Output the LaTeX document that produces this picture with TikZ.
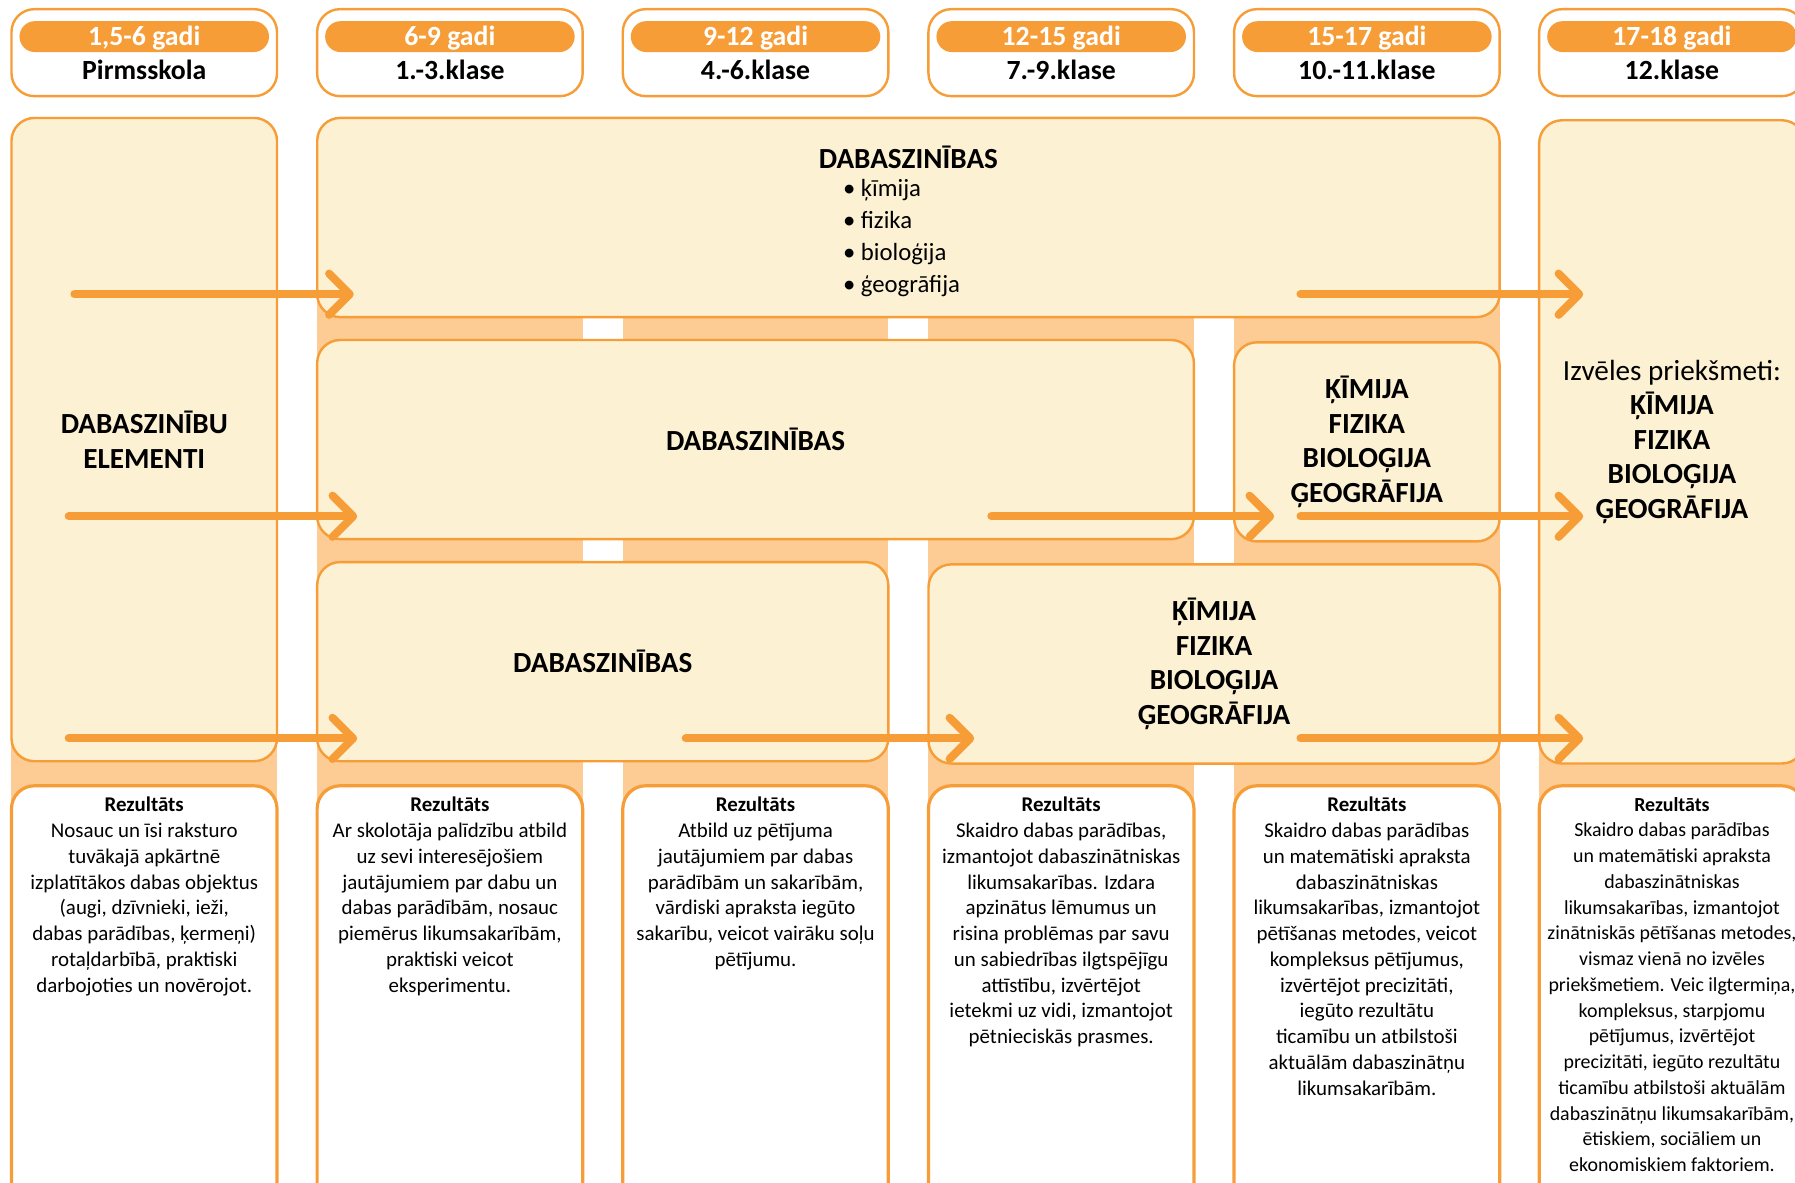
\documentclass[tikz,border=0pt]{standalone}
\usepackage{fontspec}
\setmainfont{Carlito}
\usetikzlibrary{arrows.meta}
\definecolor{oranzs}{HTML}{F79D38}
\definecolor{gaiss}{HTML}{FDF1D3}
\definecolor{persiks}{HTML}{FDCB94}
\newcommand\rezteksts[1]{\begin{minipage}[t][7.4cm][t]{4.56cm}\centering{\bfseries Rezultāts}\\#1\end{minipage}}

\tikzset{
  galva/.style={draw=oranzs, line width=1.2pt, rounded corners=0.4cm, fill=white,
    minimum width=4.64cm, minimum height=1.52cm},
  vecums/.style={fill=oranzs, rounded corners=0.27cm, minimum width=4.36cm, minimum height=0.54cm,
    inner sep=0pt, text height=0.9em, text depth=0pt, text=white,
    font=\fontsize{13.8}{16}\selectfont\bfseries},
  klase/.style={inner sep=0pt, text height=0.64em, text depth=0pt,
    font=\fontsize{13.8}{16}\selectfont\bfseries},
  kaste/.style={draw=oranzs, line width=1.2pt, rounded corners=0.4cm, fill=gaiss,
    align=center, font=\fontsize{14.5}{17.2}\selectfont\bfseries},
  rezultats/.style={draw=oranzs, line width=1.6pt, rounded corners=0.4cm, fill=white,
    anchor=north, inner xsep=0.04cm, inner ysep=0.2cm, font=\fontsize{10.4}{12.8}\selectfont},
  bulta/.style={draw=oranzs, line width=4pt, line cap=round,
    -{Straight Barb[length=0.36cm, width=0.72cm, round]}},
}

\begin{document}
\begin{tikzpicture}[x=0.02cm, y=-0.02cm]
  \useasboundingbox (0,0) rectangle (1568,1033);
  \clip (0,0) rectangle (1568,1033);

  % joslas aiz kolonnām
  \fill[persiks] (10,150) rectangle (242,700);
  \fill[persiks] (277,150) rectangle (509,700);
  \fill[persiks] (544,150) rectangle (776,700);
  \fill[persiks] (811,150) rectangle (1043,700);
  \fill[persiks] (1078,150) rectangle (1310,700);
  \fill[persiks] (1344,150) rectangle (1577,700);

  % vecums un klase
  \node[galva] (g1) at (126,46) {};
  \node[vecums] (v1) at (126,32) {1,5-6 gadi};
  \node[klase] (k1) at (126,64) {Pirmsskola};
  \node[galva] (g2) at (393,46) {};
  \node[vecums] (v2) at (393,32) {6-9 gadi};
  \node[klase] (k2) at (393,64) {1.-3.klase};
  \node[galva] (g3) at (660,46) {};
  \node[vecums] (v3) at (660,32) {9-12 gadi};
  \node[klase] (k3) at (660,64) {4.-6.klase};
  \node[galva] (g4) at (927,46) {};
  \node[vecums] (v4) at (927,32) {12-15 gadi};
  \node[klase] (k4) at (927,64) {7.-9.klase};
  \node[galva] (g5) at (1194,46) {};
  \node[vecums] (v5) at (1194,32) {15-17 gadi};
  \node[klase] (k5) at (1194,64) {10.-11.klase};
  \node[galva] (g6) at (1460.5,46) {};
  \node[vecums] (v6) at (1460.5,32) {17-18 gadi};
  \node[klase] (k6) at (1460.5,64) {12.klase};

  % priekšmeti
  \node[kaste, minimum width=4.64cm, minimum height=11.24cm] (elementi) at (126,384) {DABASZINĪBU\\ELEMENTI};
  \node[kaste, minimum width=20.66cm, minimum height=3.48cm] (dab1) at (793.5,190)
    {\rule{0pt}{17.5pt}DABASZINĪBAS\\[-3pt]\hspace*{-0.24cm}{\fontsize{12.3}{15.9}\selectfont\mdseries
      \begin{tabular}[t]{@{}l@{}}\textbullet\ ķīmija\\ \textbullet\ fizika\\ \textbullet\ bioloģija\\ \textbullet\ ģeogrāfija\end{tabular}}};
  \node[kaste, minimum width=15.32cm, minimum height=3.48cm] (dab2) at (660,384) {DABASZINĪBAS};
  \node[kaste, minimum width=4.64cm, minimum height=3.48cm] (prieksm2) at (1194,386) {ĶĪMIJA\\FIZIKA\\BIOLOĢIJA\\ĢEOGRĀFIJA};
  \node[kaste, minimum width=9.98cm, minimum height=3.48cm] (dab3) at (526.5,578) {DABASZINĪBAS};
  \node[kaste, minimum width=9.98cm, minimum height=3.48cm] (prieksm3) at (1060.5,580) {ĶĪMIJA\\FIZIKA\\BIOLOĢIJA\\ĢEOGRĀFIJA};
  \node[kaste, minimum width=4.64cm, minimum height=11.24cm] (izveles) at (1460.5,386)
    {{\mdseries Izvēles priekšmeti:}\\ĶĪMIJA\\FIZIKA\\BIOLOĢIJA\\ĢEOGRĀFIJA};

  % rezultāti
  \node[rezultats] (r1) at (126,685) {\rezteksts{Nosauc un īsi raksturo\\ tuvākajā apkārtnē\\ izplatītākos dabas objektus\\ (augi, dzīvnieki, ieži,\\ dabas parādības, ķermeņi)\\ rotaļdarbībā, praktiski\\ darbojoties un novērojot.}};
  \node[rezultats] (r2) at (393,685) {\rezteksts{Ar skolotāja palīdzību atbild\\ uz sevi interesējošiem\\ jautājumiem par dabu un\\ dabas parādībām, nosauc\\ piemērus likumsakarībām,\\ praktiski veicot\\ eksperimentu.}};
  \node[rezultats] (r3) at (660,685) {\rezteksts{Atbild uz pētījuma\\ jautājumiem par dabas\\ parādībām un sakarībām,\\ vārdiski apraksta iegūto\\ sakarību, veicot vairāku soļu\\ pētījumu.}};
  \node[rezultats] (r4) at (927,685) {\rezteksts{Skaidro dabas parādības,\\ izmantojot dabaszinātniskas\\ likumsakarības. Izdara\\ apzinātus lēmumus un\\ risina problēmas par savu\\ un sabiedrības ilgtspējīgu\\ attīstību, izvērtējot\\ ietekmi uz vidi, izmantojot\\ pētnieciskās prasmes.}};
  \node[rezultats] (r5) at (1194,685) {\rezteksts{Skaidro dabas parādības\\ un matemātiski apraksta\\ dabaszinātniskas\\ likumsakarības, izmantojot\\ pētīšanas metodes, veicot\\ kompleksus pētījumus,\\ izvērtējot precizitāti,\\ iegūto rezultātu\\ ticamību un atbilstoši\\ aktuālām dabaszinātņu\\ likumsakarībām.}};
  \node[rezultats, font=\fontsize{9.9}{12.8}\selectfont] (r6) at (1460.5,685) {\rezteksts{Skaidro dabas parādības\\ un matemātiski apraksta\\ dabaszinātniskas\\ likumsakarības, izmantojot\\ zinātniskās pētīšanas metodes,\\ vismaz vienā no izvēles\\ priekšmetiem. Veic ilgtermiņa,\\ kompleksus, starpjomu\\ pētījumus, izvērtējot\\ precizitāti, iegūto rezultātu\\ ticamību atbilstoši aktuālām\\ dabaszinātņu likumsakarībām,\\ ētiskiem, sociāliem un\\ ekonomiskiem faktoriem.}};

  % bultas
  \coordinate (s1) at (65,257);   \coordinate (e1) at (309,257);
  \coordinate (s2) at (1136,257); \coordinate (e2) at (1383,257);
  \coordinate (s3) at (60,451);   \coordinate (e3) at (312,451);
  \coordinate (s4) at (866,451);  \coordinate (e4) at (1113,451);
  \coordinate (s5) at (1136,451); \coordinate (e5) at (1383,451);
  \coordinate (s6) at (60,645);   \coordinate (e6) at (312,645);
  \coordinate (s7) at (599,645);  \coordinate (e7) at (851,645);
  \coordinate (s8) at (1136,645); \coordinate (e8) at (1383,645);
  \draw[bulta] (s1) -- (e1);
  \draw[bulta] (s2) -- (e2);
  \draw[bulta] (s3) -- (e3);
  \draw[bulta] (s4) -- (e4);
  \draw[bulta] (s5) -- (e5);
  \draw[bulta] (s6) -- (e6);
  \draw[bulta] (s7) -- (e7);
  \draw[bulta] (s8) -- (e8);
\end{tikzpicture}
\end{document}
